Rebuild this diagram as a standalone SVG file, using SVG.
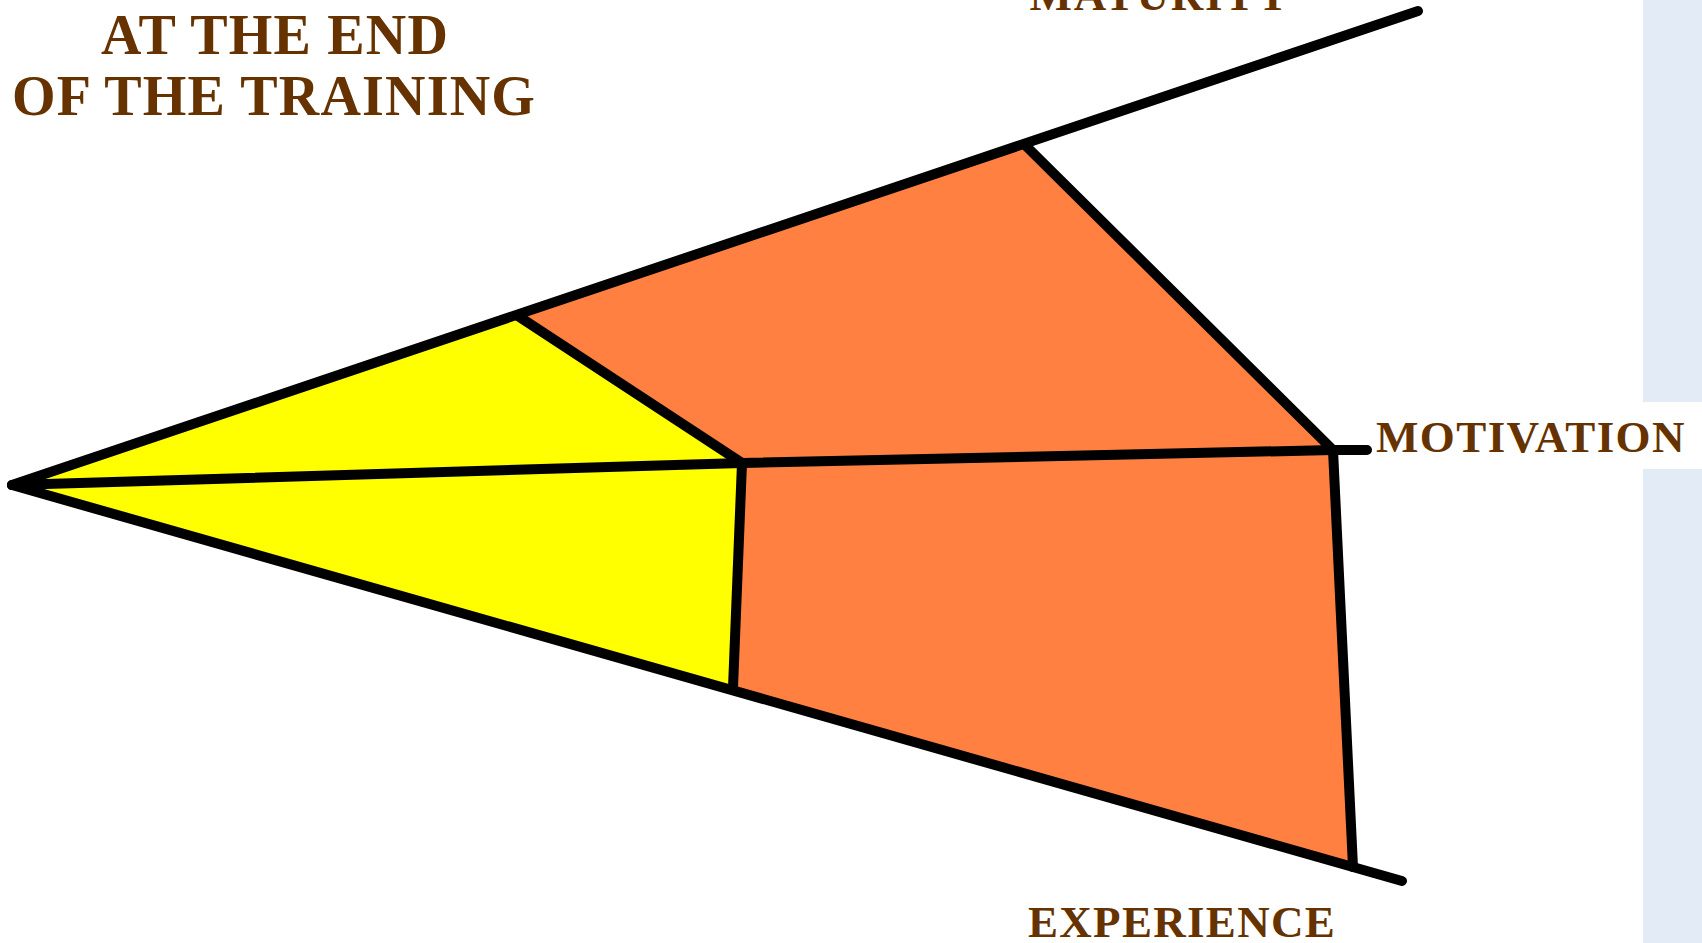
<svg xmlns="http://www.w3.org/2000/svg" width="1702" height="943" viewBox="0 0 1702 943">
<style>
.lbl{font-family:"Liberation Serif","Times New Roman",serif;font-weight:bold;fill:#663300;}
.ln{fill:none;stroke:#000;stroke-width:10;stroke-linecap:round;stroke-linejoin:round;}
</style>
<rect width="1702" height="943" fill="#fff"/>
<g id="side-strip">
<rect x="1643" y="0" width="59" height="402" fill="#e3ecf6"/>
<rect x="1643" y="469" width="59" height="474" fill="#e3ecf6"/>
</g>
<g id="yellow-region">
<polygon points="12,485 518,316 742,463 733,688" fill="#ffff00"/>
</g>
<g id="orange-region">
<polygon points="518,316 1025,145 1333,450 1353,867 733,688 742,463" fill="#ff8040"/>
</g>
<g id="connectors">
<line class="ln" x1="12" y1="485" x2="1418" y2="11"/>
<line class="ln" x1="12" y1="485" x2="1402" y2="881"/>
<polyline class="ln" points="12,485 742,463 1333,450 1367,450"/>
<polyline class="ln" points="518,316 742,463 733,688"/>
<polyline class="ln" points="1025,145 1333,450 1353,867"/>
</g>
<g id="title">
<text class="lbl" x="275" y="54" font-size="56" text-anchor="middle" letter-spacing="1.2">AT THE END</text>
<text class="lbl" x="274" y="115" font-size="56" text-anchor="middle" letter-spacing="1.2">OF THE TRAINING</text>
</g>
<g id="label-maturity">
<text class="lbl" x="1160" y="10" font-size="45" text-anchor="middle" letter-spacing="1.8">MATURITY</text>
</g>
<g id="label-motivation">
<text class="lbl" x="1376" y="452" font-size="45" letter-spacing="1.4">MOTIVATION</text>
</g>
<g id="label-experience">
<text class="lbl" x="1028" y="937" font-size="45" letter-spacing="1.3">EXPERIENCE</text>
</g>
</svg>
